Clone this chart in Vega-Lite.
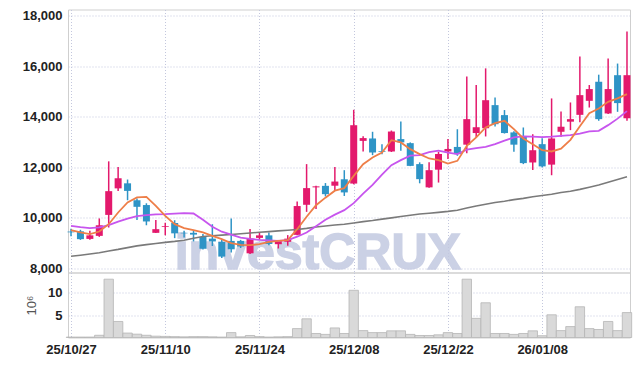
{
"$schema": "https://vega.github.io/schema/vega-lite/v6.json",
"background": "white",
"padding": {"left": 21, "top": 8.5, "right": 5, "bottom": 5},
"spacing": 0,
"bounds": "flush",
"config": {
  "view": {"stroke": "#cfcfcf", "strokeWidth": 1},
  "axis": {"gridColor": "#c3c7dd", "gridDash": [1, 2], "gridWidth": 1, "ticks": false, "domain": false,
           "labelFont": "Liberation Sans", "labelFontWeight": "bold", "labelFontSize": 13, "labelColor": "#222"}
},
"datasets": {
  "wm": [{"d": "25/11/11", "p": 7960, "label": "investCRUX"}],
  "k": [
{"d":"25/10/27","o":9450,"h":9560,"l":9260,"c":9420,"v":0.1,"ma5":9505,"ma20":9675,"ma60":8475},
{"d":"25/10/28","o":9460,"h":9520,"l":9120,"c":9150,"v":0.1,"ma5":9414,"ma20":9624,"ma60":8515},
{"d":"25/10/29","o":9160,"h":9480,"l":9130,"c":9300,"v":0.1,"ma5":9346,"ma20":9584,"ma60":8562},
{"d":"25/10/30","o":9280,"h":9970,"l":9240,"c":9700,"v":0.5,"ma5":9453,"ma20":9612,"ma60":8610},
{"d":"25/10/31","o":10110,"h":12230,"l":9610,"c":11050,"v":13.1,"ma5":9742,"ma20":9703,"ma60":8681},
{"d":"25/11/03","o":11160,"h":12010,"l":11060,"c":11560,"v":3.6,"ma5":10206,"ma20":9841,"ma60":8744},
{"d":"25/11/04","o":11360,"h":11510,"l":10690,"c":11060,"v":1.0,"ma5":10602,"ma20":9960,"ma60":8816},
{"d":"25/11/05","o":10690,"h":10760,"l":9910,"c":10430,"v":0.75,"ma5":10800,"ma20":10059,"ma60":8883},
{"d":"25/11/06","o":10500,"h":10570,"l":9700,"c":9850,"v":0.5,"ma5":10823,"ma20":10099,"ma60":8935},
{"d":"25/11/07","o":9400,"h":9910,"l":9390,"c":9545,"v":0.3,"ma5":10467,"ma20":10127,"ma60":8978},
{"d":"25/11/10","o":9640,"h":9800,"l":9300,"c":9670,"v":0.25,"ma5":10071,"ma20":10138,"ma60":9022},
{"d":"25/11/11","o":9790,"h":9900,"l":9190,"c":9380,"v":0.2,"ma5":9742,"ma20":10158,"ma60":9061},
{"d":"25/11/12","o":9400,"h":9480,"l":9220,"c":9380,"v":0.15,"ma5":9584,"ma20":10178,"ma60":9109},
{"d":"25/11/13","o":9400,"h":9500,"l":9060,"c":9330,"v":0.2,"ma5":9505,"ma20":10166,"ma60":9188},
{"d":"25/11/14","o":9240,"h":9350,"l":8740,"c":8770,"v":0.2,"ma5":9414,"ma20":9921,"ma60":9255},
{"d":"25/11/17","o":9170,"h":9740,"l":8880,"c":9060,"v":0.15,"ma5":9279,"ma20":9643,"ma60":9283},
{"d":"25/11/18","o":9040,"h":9120,"l":8400,"c":8460,"v":0.1,"ma5":9148,"ma20":9445,"ma60":9311},
{"d":"25/11/19","o":9080,"h":9970,"l":8620,"c":8750,"v":1.1,"ma5":8990,"ma20":9327,"ma60":9335},
{"d":"25/11/20","o":9080,"h":9120,"l":8800,"c":8860,"v":0.15,"ma5":8923,"ma20":9208,"ma60":9362},
{"d":"25/11/21","o":8590,"h":9550,"l":8560,"c":9175,"v":0.45,"ma5":8911,"ma20":9160,"ma60":9394},
{"d":"25/11/24","o":9200,"h":9410,"l":9120,"c":9300,"v":0.2,"ma5":8950,"ma20":9121,"ma60":9422},
{"d":"25/11/25","o":9300,"h":9410,"l":8910,"c":8960,"v":0.1,"ma5":9041,"ma20":9097,"ma60":9449},
{"d":"25/11/26","o":8950,"h":9120,"l":8780,"c":9080,"v":0.15,"ma5":9081,"ma20":9081,"ma60":9477},
{"d":"25/11/27","o":9045,"h":9310,"l":8890,"c":9170,"v":0.2,"ma5":9109,"ma20":9109,"ma60":9505},
{"d":"25/11/28","o":9320,"h":10640,"l":9300,"c":10460,"v":2.0,"ma5":9544,"ma20":9247,"ma60":9533},
{"d":"25/12/01","o":10510,"h":12120,"l":10230,"c":11170,"v":4.2,"ma5":10039,"ma20":9414,"ma60":9576},
{"d":"25/12/02","o":11200,"h":11260,"l":10340,"c":11240,"v":0.9,"ma5":10495,"ma20":9663,"ma60":9628},
{"d":"25/12/03","o":11260,"h":11370,"l":10840,"c":10930,"v":0.7,"ma5":10792,"ma20":9921,"ma60":9671},
{"d":"25/12/04","o":11265,"h":12010,"l":11090,"c":11430,"v":2.15,"ma5":11069,"ma20":10119,"ma60":9711},
{"d":"25/12/05","o":11520,"h":11880,"l":10860,"c":11000,"v":0.9,"ma5":11168,"ma20":10297,"ma60":9742},
{"d":"25/12/08","o":11350,"h":14270,"l":11320,"c":13660,"v":10.6,"ma5":11655,"ma20":10574,"ma60":9790},
{"d":"25/12/09","o":13040,"h":13220,"l":12620,"c":13150,"v":1.55,"ma5":12118,"ma20":10950,"ma60":9845},
{"d":"25/12/10","o":13135,"h":13400,"l":12475,"c":12580,"v":1.1,"ma5":12384,"ma20":11299,"ma60":9889},
{"d":"25/12/11","o":12640,"h":12910,"l":12510,"c":12610,"v":1.1,"ma5":12582,"ma20":11703,"ma60":9944},
{"d":"25/12/12","o":12620,"h":13450,"l":12600,"c":13410,"v":1.5,"ma5":13069,"ma20":12079,"ma60":9992},
{"d":"25/12/15","o":13110,"h":13810,"l":12650,"c":12980,"v":1.5,"ma5":12978,"ma20":12277,"ma60":10047},
{"d":"25/12/16","o":12950,"h":12980,"l":12040,"c":12050,"v":0.7,"ma5":12712,"ma20":12455,"ma60":10099},
{"d":"25/12/17","o":12120,"h":12190,"l":11360,"c":11525,"v":0.45,"ma5":12514,"ma20":12475,"ma60":10146},
{"d":"25/12/18","o":11200,"h":12190,"l":11180,"c":11880,"v":0.45,"ma5":12344,"ma20":12594,"ma60":10178},
{"d":"25/12/19","o":11900,"h":12600,"l":11390,"c":12520,"v":0.6,"ma5":12277,"ma20":12653,"ma60":10210},
{"d":"25/12/22","o":12620,"h":13110,"l":12320,"c":12720,"v":1.1,"ma5":12138,"ma20":12574,"ma60":10249},
{"d":"25/12/23","o":12800,"h":13500,"l":12450,"c":12515,"v":0.9,"ma5":12249,"ma20":12514,"ma60":10297},
{"d":"25/12/24","o":12890,"h":15590,"l":12550,"c":13900,"v":13.1,"ma5":12843,"ma20":12693,"ma60":10384},
{"d":"25/12/26","o":13350,"h":15250,"l":13175,"c":13580,"v":4.3,"ma5":13176,"ma20":12752,"ma60":10463},
{"d":"25/12/29","o":13540,"h":15910,"l":13215,"c":14650,"v":7.8,"ma5":13572,"ma20":12803,"ma60":10534},
{"d":"25/12/30","o":14455,"h":14760,"l":13610,"c":13700,"v":0.9,"ma5":13742,"ma20":12910,"ma60":10602},
{"d":"26/01/02","o":14060,"h":14260,"l":13330,"c":13350,"v":0.9,"ma5":13833,"ma20":13049,"ma60":10653},
{"d":"26/01/05","o":13375,"h":13420,"l":12610,"c":12890,"v":0.7,"ma5":13504,"ma20":13176,"ma60":10713},
{"d":"26/01/06","o":13215,"h":13570,"l":12120,"c":12160,"v":0.9,"ma5":13136,"ma20":13215,"ma60":10764},
{"d":"26/01/07","o":12185,"h":13305,"l":11890,"c":12670,"v":1.5,"ma5":12910,"ma20":13207,"ma60":10827},
{"d":"26/01/08","o":12910,"h":13140,"l":11990,"c":12030,"v":0.4,"ma5":12673,"ma20":13188,"ma60":10879},
{"d":"26/01/09","o":12100,"h":14720,"l":11680,"c":13135,"v":5.1,"ma5":12621,"ma20":13207,"ma60":10930},
{"d":"26/01/12","o":13400,"h":14200,"l":13200,"c":13600,"v":1.55,"ma5":12732,"ma20":13239,"ma60":10994},
{"d":"26/01/13","o":13800,"h":14560,"l":13465,"c":13900,"v":2.45,"ma5":13081,"ma20":13267,"ma60":11045},
{"d":"26/01/14","o":14070,"h":16380,"l":13775,"c":14850,"v":6.9,"ma5":13623,"ma20":13326,"ma60":11120},
{"d":"26/01/15","o":14625,"h":15250,"l":14360,"c":15090,"v":2.0,"ma5":14138,"ma20":13413,"ma60":11204},
{"d":"26/01/16","o":15380,"h":15660,"l":13835,"c":13900,"v":1.8,"ma5":14324,"ma20":13437,"ma60":11295},
{"d":"26/01/19","o":14125,"h":16300,"l":14100,"c":15090,"v":3.6,"ma5":14585,"ma20":13663,"ma60":11406},
{"d":"26/01/20","o":15640,"h":16100,"l":14190,"c":14535,"v":1.55,"ma5":14720,"ma20":13920,"ma60":11513},
{"d":"26/01/21","o":13935,"h":17370,"l":13835,"c":15640,"v":5.6,"ma5":14890,"ma20":14217,"ma60":11619}
  ]
},
"vconcat": [
  {
    "width": 562, "height": 263,
    "data": {"name": "k"},
    "encoding": {
      "x": {"field": "d", "type": "ordinal", "scale": {"type": "point", "padding": 0.32},
            "axis": {"title": null, "labels": false, "grid": true, "labelPadding": 0,
                     "values": ["25/10/27","25/11/10","25/11/24","25/12/08","25/12/22","26/01/08"]}}
    },
    "layer": [
      {"data": {"name": "wm"},
       "mark": {"type": "text", "align": "left", "baseline": "alphabetic", "fontSize": 50, "fontWeight": "bold",
                "font": "Liberation Sans", "color": "#c3c9e1", "stroke": "#c3c9e1", "strokeWidth": 1.5, "opacity": 0.85},
       "encoding": {"y": {"field": "p", "type": "quantitative", "title": null,
                          "scale": {"domain": [7830, 18240], "nice": false, "zero": false},
                          "axis": {"values": [8000,10000,12000,14000,16000,18000], "labelExpr": "format(datum.value, ',')", "grid": true, "labelPadding": 6}},
                    "text": {"field": "label"}}},
      {"mark": {"type": "rule", "strokeWidth": 1.5},
       "encoding": {"y": {"field": "l", "type": "quantitative", "title": null},
                    "y2": {"field": "h"},
                    "color": {"condition": {"test": "datum.c >= datum.o", "value": "#e3196c"}, "value": "#2e94c6"}}},
      {"mark": {"type": "bar", "width": 7},
       "encoding": {"y": {"field": "o", "type": "quantitative", "title": null},
                    "y2": {"field": "c"},
                    "color": {"condition": {"test": "datum.c >= datum.o", "value": "#e3196c"}, "value": "#2e94c6"}}},
      {"mark": {"type": "line", "color": "#7a7a7a", "strokeWidth": 1.6},
       "encoding": {"y": {"field": "ma60", "type": "quantitative", "title": null}}},
      {"mark": {"type": "line", "color": "#c755ee", "strokeWidth": 1.8},
       "encoding": {"y": {"field": "ma20", "type": "quantitative", "title": null}}},
      {"mark": {"type": "line", "color": "#ee7e48", "strokeWidth": 1.8},
       "encoding": {"y": {"field": "ma5", "type": "quantitative", "title": null}}}
    ]
  },
  {
    "width": 562, "height": 65,
    "data": {"name": "k"},
    "mark": {"type": "bar", "width": 9.4, "color": "#d9d9d9", "stroke": "#b5b5b5", "strokeWidth": 0.8},
    "encoding": {
      "x": {"field": "d", "type": "ordinal", "scale": {"type": "point", "padding": 0.32},
            "axis": {"title": null, "labelAngle": 0, "grid": true, "labelPadding": 6,
                     "values": ["25/10/27","25/11/10","25/11/24","25/12/08","25/12/22","26/01/08"]}},
      "y": {"field": "v", "type": "quantitative", "scale": {"domain": [0, 14.6], "nice": false},
            "axis": {"values": [5, 10], "grid": true, "title": "10⁶", "titleFont": "Liberation Sans",
                     "titleFontWeight": "normal", "titleFontSize": 13, "titleColor": "#555", "titlePadding": 9, "labelPadding": 6}}
    }
  }
]
}
